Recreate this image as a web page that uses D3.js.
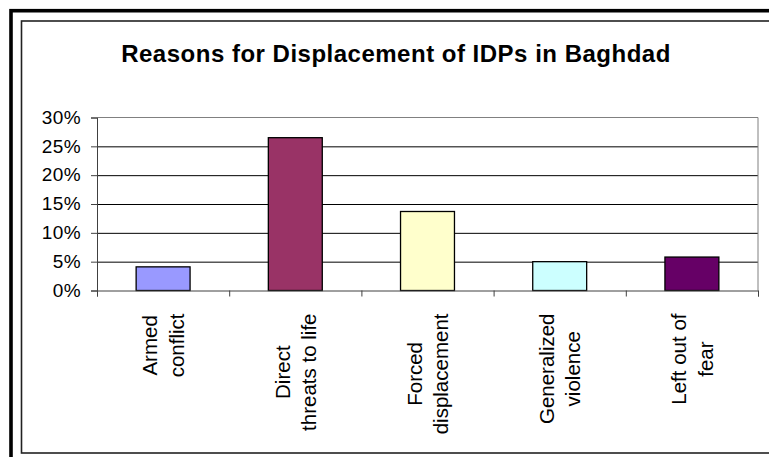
<!DOCTYPE html>
<html>
<head>
<meta charset="utf-8">
<script src="https://cdn.jsdelivr.net/npm/d3@7"></script>
<style>
  body { margin: 0; background: #fff; }
  svg { display: block; font-family: Arial, "Liberation Sans", sans-serif; }
  .yAxis text { font-size: 19px; fill: #000; }
  .yAxis path, .xAxis path { stroke: #404040; }
  .yAxis line, .xAxis line { stroke: #404040; }
  .grid line { stroke: #000; }
  .grid path { display: none; }
</style>
</head>
<body>
<div id="chart1"></div>
<script>
var title = "Reasons for Displacement of IDPs in Baghdad"
var categories = ["Armed conflict", "Direct threats to life", "Forced displacement", "Generalized violence", "Left out of fear"]
var categoryLines = [["Armed", "conflict"], ["Direct", "threats to life"], ["Forced", "displacement"], ["Generalized", "violence"], ["Left out of", "fear"]]
var values = [0.041, 0.265, 0.137, 0.050, 0.058]
var barColors = ["#9999FF", "#993366", "#FFFFCC", "#CCFFFF", "#660066"]
var yTicks = [0, 0.05, 0.10, 0.15, 0.20, 0.25, 0.30]

var width = 769, height = 457
var plot = {left: 97, right: 758, top: 117.5, bottom: 290.5}

var svg = d3.select("#chart1").append("svg")
    .attr("width", width)
    .attr("height", height)

// frame: thick outer border + thin inner border (both run off the right/bottom edge)
svg.append("rect")
    .attr("x", 11).attr("y", 10.7)
    .attr("width", 800).attr("height", 500)
    .attr("fill", "none").attr("stroke", "#000").attr("stroke-width", 3.6)
svg.append("rect")
    .attr("x", 21.5).attr("y", 21)
    .attr("width", 800).attr("height", 432)
    .attr("fill", "#fff").attr("stroke", "#222").attr("stroke-width", 1.6)

svg.append("text")
    .attr("x", 396).attr("y", 62)
    .attr("text-anchor", "middle")
    .style("font-size", "24px")
    .style("font-weight", "bold")
    .style("letter-spacing", "0.5px")
    .text(title)

var yScale = d3.scaleLinear().domain([0, 0.30]).range([plot.bottom, plot.top])
var xScale = d3.scaleBand().domain(categories)
    .range([plot.left, plot.right])
    .paddingInner(0.592).paddingOuter(0.296)
var edgeScale = d3.scaleLinear().domain([0, categories.length]).range([plot.left, plot.right])

// gridlines
svg.append("g")
    .attr("class", "grid")
    .attr("transform", "translate(" + plot.left + ",0)")
    .call(d3.axisLeft(yScale).tickValues(yTicks.slice(1, -1)).tickSize(-(plot.right - plot.left)).tickFormat(""))

// plot border top/right in grey
svg.append("path")
    .attr("d", "M" + plot.left + "," + yScale(0.30) + "H" + plot.right + "V" + plot.bottom)
    .attr("fill", "none").attr("stroke", "#808080")

// bars
svg.selectAll(".bar")
    .data(values)
    .enter().append("rect")
    .attr("class", "bar")
    .attr("x", function(d, i) { return xScale(categories[i]) })
    .attr("y", function(d) { return yScale(d) })
    .attr("width", xScale.bandwidth())
    .attr("height", function(d) { return yScale(0) - yScale(d) })
    .attr("fill", function(d, i) { return barColors[i] })
    .attr("stroke", "#000")
    .attr("stroke-width", 1.3)

var yAxis = d3.axisLeft(yScale)
    .tickValues(yTicks)
    .tickSize(6)
    .tickPadding(10)
    .tickFormat(d3.format(".0%"))
svg.append("g")
    .attr("class", "yAxis")
    .attr("transform", "translate(" + plot.left + ",0)")
    .call(yAxis)
    .call(function(g) { g.selectAll("text").attr("dy", "0.3em").style("letter-spacing", "0.4px") })

var xAxis = d3.axisBottom(edgeScale)
    .tickValues(d3.range(categories.length + 1))
    .tickSize(6)
    .tickFormat("")
svg.append("g")
    .attr("class", "xAxis")
    .attr("transform", "translate(0," + plot.bottom + ")")
    .call(xAxis)

// rotated category labels, top-aligned under the axis, lines centred on each other
var labelGap = 23
var lineGap = 26.6
var labels = svg.selectAll(".xLabel")
    .data(categories)
    .enter().append("g")
    .attr("class", "xLabel")
    .attr("transform", function(d) {
        return "translate(" + (xScale(d) + xScale.bandwidth() / 2) + "," + plot.bottom + ") rotate(-90)"
    })

labels.each(function(d, i) {
    var g = d3.select(this)
    var lines = categoryLines[i]
    var texts = g.selectAll("text").data(lines).enter().append("text")
        .attr("text-anchor", "middle")
        .style("font-size", "20.5px")
        .attr("y", function(t, j) { return (j - (lines.length - 1) / 2) * lineGap + 7.5 })
        .text(function(t) { return t })
    var maxLen = d3.max(texts.nodes(), function(n) { return n.getComputedTextLength() })
    texts.attr("x", -(labelGap + maxLen / 2))
})
</script>
</body>
</html>
